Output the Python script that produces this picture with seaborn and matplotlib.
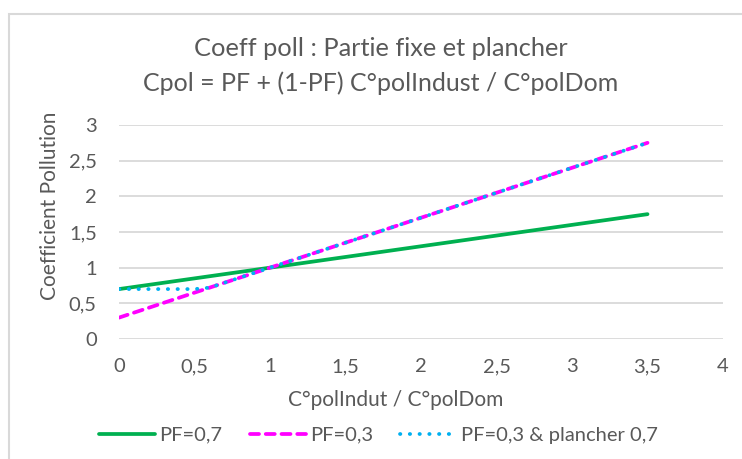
import matplotlib
matplotlib.use("Agg")
import matplotlib.pyplot as plt
import matplotlib.patches as mpatches
import pandas as pd
import seaborn as sns

# values (x = C°polIndust / C°polDom)
ratio = [0.0, 0.1, 0.2, 0.3, 0.4, 0.5, 0.6, 0.7, 0.8, 0.9,
         1.0, 1.1, 1.2, 1.3, 1.4, 1.5, 1.6, 1.7, 1.8, 1.9,
         2.0, 2.1, 2.2, 2.3, 2.4, 2.5, 2.6, 2.7, 2.8, 2.9,
         3.0, 3.1, 3.2, 3.3, 3.4, 3.5]
pf_07 = [0.70, 0.73, 0.76, 0.79, 0.82, 0.85, 0.88, 0.91, 0.94, 0.97,
         1.00, 1.03, 1.06, 1.09, 1.12, 1.15, 1.18, 1.21, 1.24, 1.27,
         1.30, 1.33, 1.36, 1.39, 1.42, 1.45, 1.48, 1.51, 1.54, 1.57,
         1.60, 1.63, 1.66, 1.69, 1.72, 1.75]
pf_03 = [0.30, 0.37, 0.44, 0.51, 0.58, 0.65, 0.72, 0.79, 0.86, 0.93,
         1.00, 1.07, 1.14, 1.21, 1.28, 1.35, 1.42, 1.49, 1.56, 1.63,
         1.70, 1.77, 1.84, 1.91, 1.98, 2.05, 2.12, 2.19, 2.26, 2.33,
         2.40, 2.47, 2.54, 2.61, 2.68, 2.75]
pf_03_floor = [0.70, 0.70, 0.70, 0.70, 0.70, 0.70, 0.72, 0.79, 0.86, 0.93,
               1.00, 1.07, 1.14, 1.21, 1.28, 1.35, 1.42, 1.49, 1.56, 1.63,
               1.70, 1.77, 1.84, 1.91, 1.98, 2.05, 2.12, 2.19, 2.26, 2.33,
               2.40, 2.47, 2.54, 2.61, 2.68, 2.75]
series_names = ["PF=0,7", "PF=0,3", "PF=0,3 & plancher 0,7"]
x_ticks = [0, 0.5, 1, 1.5, 2, 2.5, 3, 3.5, 4]
x_tick_labels = ["0", "0,5", "1", "1,5", "2", "2,5", "3", "3,5", "4"]
y_ticks = [0, 0.5, 1, 1.5, 2, 2.5, 3]
y_tick_labels = ["0", "0,5", "1", "1,5", "2", "2,5", "3"]

df = pd.DataFrame({"ratio": ratio, series_names[0]: pf_07,
                   series_names[1]: pf_03, series_names[2]: pf_03_floor})
long = df.melt(id_vars="ratio", var_name="serie", value_name="coef")

sns.set_theme(style="white")
plt.rcParams["font.family"] = ["Lato", "DejaVu Sans"]
text_grey = "#595959"

fig = plt.figure(figsize=(7.42, 4.59), dpi=100)
ax = fig.add_axes([0.1604, 0.2614, 0.8140, 0.4663])

palette = {series_names[0]: "#00B050", series_names[1]: "#FF00FF",
           series_names[2]: "#00B0F0"}
dashes = {series_names[0]: "", series_names[1]: (2.4, 1.8),
          series_names[2]: (0.1, 2.5)}
lw = 2.7
sns.lineplot(data=long, x="ratio", y="coef", hue="serie", style="serie",
             palette=palette, dashes=dashes, linewidth=lw, ax=ax,
             legend=False)
for line in ax.get_lines():
    line.set_dash_capstyle("round")

ax.set_xlim(0, 4)
ax.set_ylim(0, 3)
ax.set_xticks(x_ticks)
ax.set_xticklabels(x_tick_labels)
ax.set_yticks(y_ticks)
ax.set_yticklabels(y_tick_labels)
ax.set_xlabel("")
ax.set_ylabel("")
ax.tick_params(axis="both", length=0, labelsize=14.5, labelcolor=text_grey)
ax.tick_params(axis="x", pad=14)
ax.tick_params(axis="y", pad=16)
ax.grid(axis="y", color="#d9d9d9", linewidth=1.3)
ax.set_axisbelow(True)
for s in ax.spines.values():
    s.set_visible(False)

# axis titles placed like the Excel ones
fig.text(396 / 742, 1 - 400 / 459, "C°polIndut / C°polDom", ha="center",
         va="center", fontsize=15, color=text_grey)
fig.text(50 / 742, 1 - 206 / 459, "Coefficient Pollution", ha="center",
         va="center", rotation=90, fontsize=15, color=text_grey)

fig.text(381 / 742, 1 - 48 / 459, "Coeff poll : Partie fixe et plancher",
         ha="center", va="center", fontsize=18.3, color=text_grey)
fig.text(381 / 742, 1 - 83 / 459, "Cpol = PF + (1-PF) C°polIndust / C°polDom",
         ha="center", va="center", fontsize=18, color=text_grey)

handles = [plt.Line2D([], [], color=palette[n], linewidth=lw,
                      linestyle=(0, dashes[n]) if dashes[n] else "-",
                      dash_capstyle="round") for n in series_names]
fig.legend(handles, series_names, loc="center left",
           bbox_to_anchor=(99 / 742, 1 - 435 / 459), ncol=3, frameon=False,
           fontsize=14.5, handlelength=2.8, handletextpad=0.2,
           columnspacing=1.35, borderpad=0, borderaxespad=0,
           labelcolor=text_grey)

# chart border (only top and left edges visible in the crop)
fig.patches.append(mpatches.Rectangle((8.5 / 742, -0.1), 1.1, 1.1 - 14.5 / 459,
                                      transform=fig.transFigure, fill=False,
                                      edgecolor="#d9d9d9", linewidth=1.5))

fig.savefig("out.png", dpi=100)
